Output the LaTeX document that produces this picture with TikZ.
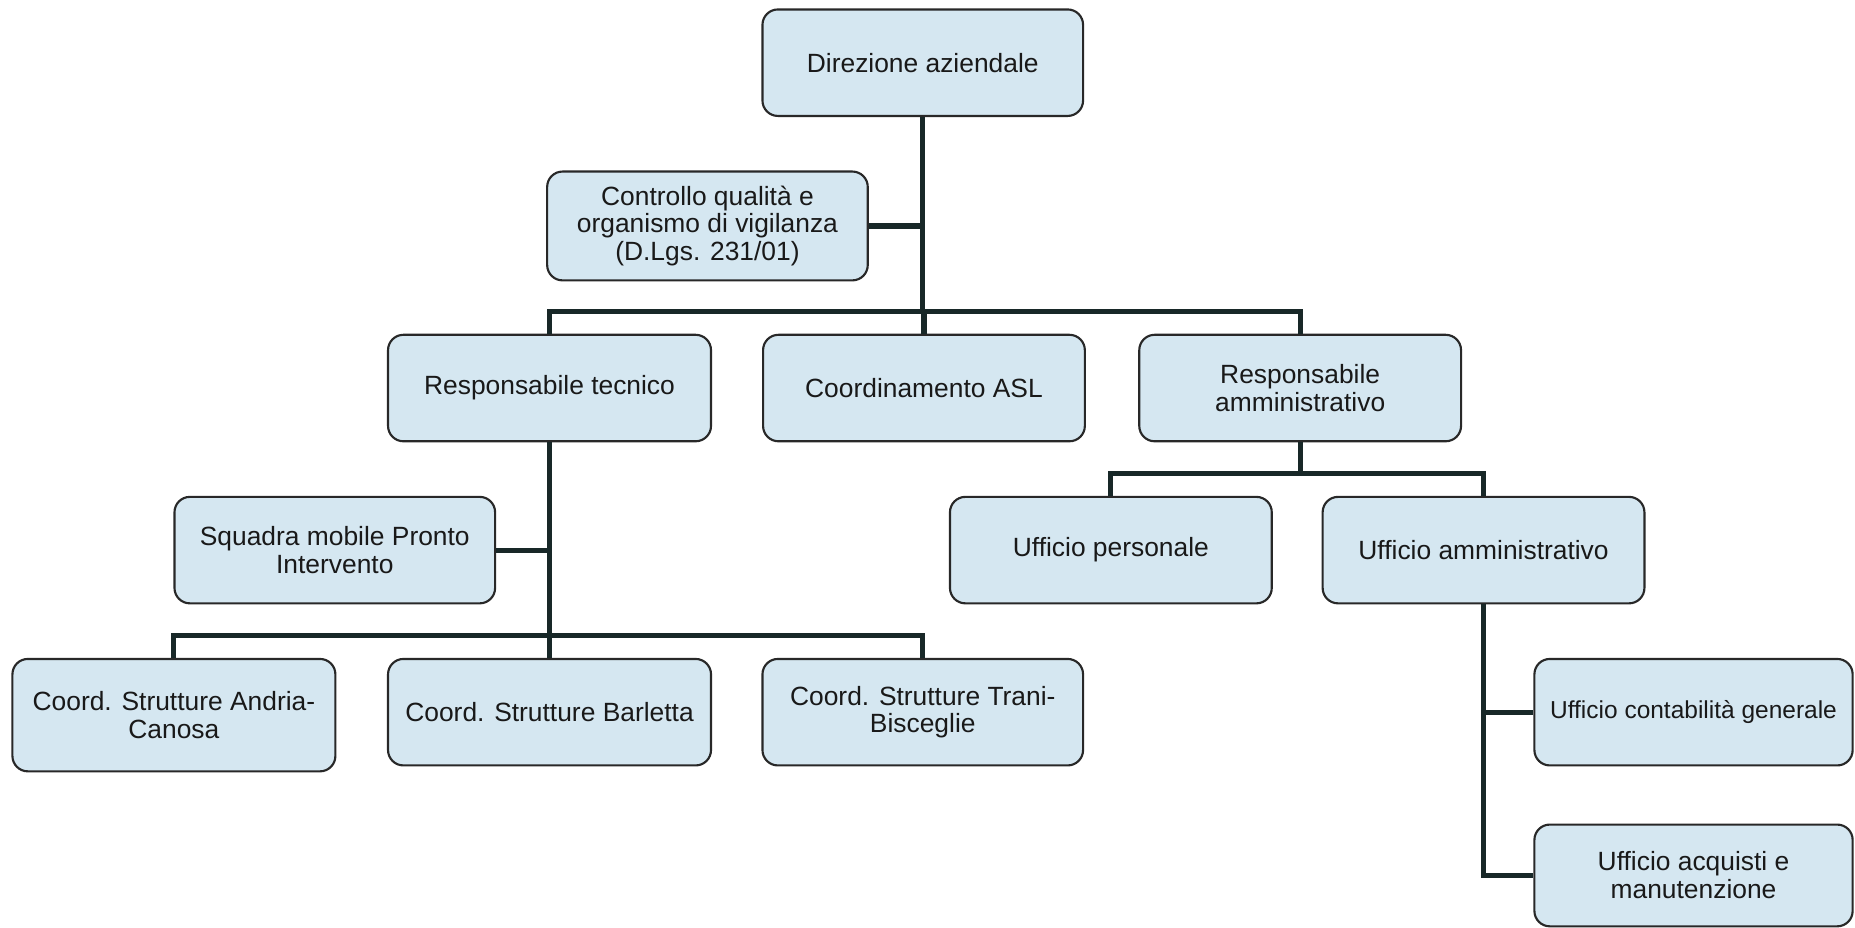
\documentclass[tikz,border=0pt]{standalone}
\usepackage{fontspec}
\setmainfont{Liberation Sans}
\definecolor{boxfill}{RGB}{213,231,241}
\definecolor{boxline}{RGB}{40,40,40}
\definecolor{connline}{RGB}{24,40,40}
\definecolor{txt}{RGB}{25,25,25}
\begin{document}
\begin{tikzpicture}[x=1pt,y=-1pt,
  orgbox/.style={draw=boxline, line width=1.8pt, fill=boxfill, rounded corners=13pt,
    minimum width=271pt, minimum height=90pt, inner sep=0pt, align=center,
    text=txt, font=\fontsize{22.3}{23.5}\selectfont},
  conn/.style={draw=connline, line width=4.3pt}]
\useasboundingbox (0,0) rectangle (1568,784);
\fill[white] (0,0) rectangle (1568,784);

\node[orgbox] (dir) at (780,53) {Direzione aziendale};
\node[orgbox, minimum height=92pt] (cq) at (598,191) {Controllo qualità e\\organismo di vigilanza\\(D.Lgs. 231/01)};
\node[orgbox, minimum width=273pt] (rt) at (464.5,328) {Responsabile tecnico};
\node[orgbox, minimum width=272pt] (asl) at (781,328) {Coordinamento ASL};
\node[orgbox, minimum width=272pt] (ra) at (1099,328) {Responsabile\\amministrativo};
\node[orgbox] (sq) at (283,465) {Squadra mobile Pronto\\Intervento};
\node[orgbox, minimum width=272pt] (up) at (939,465) {Ufficio personale};
\node[orgbox, minimum width=272pt] (ua) at (1254,465) {Ufficio amministrativo};
\node[orgbox, minimum width=273pt, minimum height=95pt] (ca) at (147,604.5) {Coord. Strutture Andria-\\Canosa};
\node[orgbox, minimum width=273pt] (cb) at (464.5,602) {Coord. Strutture Barletta};
\node[orgbox] (ct) at (780,602) {Coord. Strutture Trani-\\Bisceglie};
\node[orgbox, minimum width=269pt, font=\fontsize{20.7}{22}\selectfont] (uc) at (1431.5,602) {Ufficio contabilità generale};
\node[orgbox, minimum width=269pt, minimum height=86pt] (uq) at (1431.5,740) {Ufficio acquisti e\\manutenzione};

\coordinate (b1) at (780,263);
\coordinate (b2) at (1099,400);
\coordinate (b3) at (464.5,537);

\draw[conn] (dir.south) -- (b1);
\draw[conn] (cq.east) -- (cq.east -| b1);
\draw[conn] (rt.north) |- (b1) -| (ra.north);
\draw[conn] (asl.north) -- (asl.north |- b1);

\draw[conn] (ra.south) -- (b2);
\draw[conn] (up.north) |- (b2) -| (ua.north);

\draw[conn] (rt.south) -- (b3);
\draw[conn] (sq.east) -- (sq.east -| b3);
\draw[conn] (ca.north) |- (b3) -| (ct.north);
\draw[conn] (cb.north) -- (cb.north |- b3);

\draw[conn] (ua.south) |- (uq.west);
\draw[conn] (uc.west) -- (uc.west -| ua.south);
\end{tikzpicture}
\end{document}
